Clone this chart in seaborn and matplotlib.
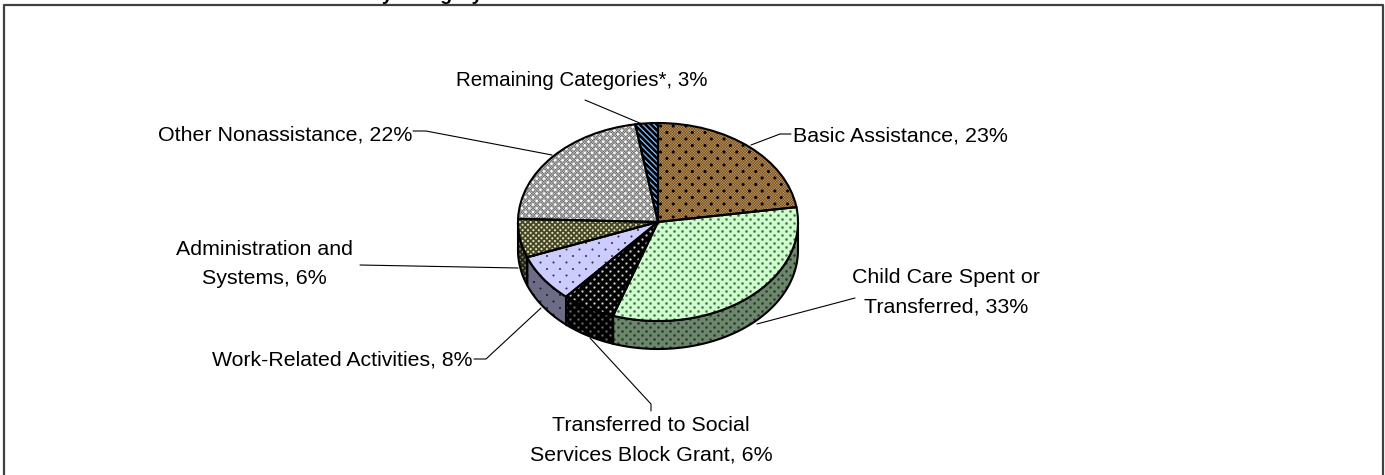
import numpy as np
import seaborn as sns
import matplotlib.pyplot as plt
import matplotlib.transforms as mtransforms
from matplotlib.lines import Line2D
from matplotlib.patches import Polygon

# values (labels round them)
categories = ["Basic Assistance", "Child Care Spent or\nTransferred",
              "Transferred to Social\nServices Block Grant", "Work-Related Activities",
              "Administration and\nSystems", "Other Nonassistance", "Remaining Categories*"]
shares = [22.6, 32.6, 6.2, 7.8, 6.3, 21.9, 2.6]
title_tail = "by Category"

base_colors = ["#96703f", "#ccffcc", "#000000", "#ccccff", "#45452a", "#949494", "#6fa8e0"]

# pattern per slice: (dot colour, dot spacing x, dot spacing y, dot radius)
dot_styles = [
    ((0, 0, 0), 12.7, 13.0, 1.5),
    ((70, 100, 70), 8.0, 8.0, 1.2),
    ((205, 205, 205), 8.0, 8.0, 1.1),
    ((50, 50, 70), 13.0, 13.0, 1.0),
    ((225, 225, 175), 5.4, 5.4, 1.05),
    ((255, 255, 255), 7.4, 7.4, 1.3),
    None,
]
# strength of the fine weave under the dots, 0 means flat colour
weave = [0.75, 0, 0, 0, 0, 0.7, 0]

label_xy = [(793, 136), (946, 292), (651, 440), (472, 360), (264, 264), (412, 135), (582, 80)]
label_ha = ["left", "center", "center", "right", "center", "right", "center"]
label_size = [15.4, 15.4, 15.4, 15.3, 15.4, 15.4, 14.8]
leaders = [
    [(751, 145), (780, 134), (791, 134)],
    [(757, 324), (855, 298)],
    [(590, 338), (651, 404), (651, 411)],
    [(541, 308), (486, 359), (474, 359)],
    [(518, 268), (360, 265)],
    [(552, 155), (426, 131), (413, 131)],
    [(642, 124), (585, 100)],
]

W, H = 1385, 475
CX, CY, RX, RY, DEPTH = 658, 222, 140, 99, 28
PAD = 4

sns.set_theme(style="white")
plt.rcParams["font.family"] = ["Liberation Sans", "DejaVu Sans"]
palette = sns.color_palette(base_colors)

fig = plt.figure(figsize=(W / 100, H / 100), dpi=100)
px = mtransforms.Affine2D().scale(1, -1).translate(0, H)

left, top = CX - RX - PAD, CY - RY - PAD
bw, bh = 2 * RX + 2 * PAD, 2 * RY + DEPTH + 2 * PAD
ax = fig.add_axes([left / W, 1 - (top + bh) / H, bw / W, bh / H])
wedges, _ = ax.pie(shares, colors=palette, startangle=90, counterclock=False, radius=1,
                   wedgeprops=dict(edgecolor="black", linewidth=1.5))
xlim = (-1 - PAD / RX, 1 + PAD / RX)
ylim = (-1 - (DEPTH + PAD) / RY, 1 + PAD / RY)
ax.set_aspect("auto")

yy, xx = np.mgrid[0:bh, 0:bw].astype(float)


def lattice(spx, spy, r):
    # staggered grid of soft round dots
    a = np.hypot(((xx / spx + 0.5) % 1 - 0.5) * spx, ((yy / spy + 0.5) % 1 - 0.5) * spy)
    b = np.hypot(((xx / spx) % 1 - 0.5) * spx, ((yy / spy) % 1 - 0.5) * spy)
    return np.clip(r - np.minimum(a, b) + 0.5, 0, 1)


def texture(i, shade=1.0):
    rgb = np.ones((bh, bw, 3)) * np.array(palette[i]) * 255
    if weave[i] > 0:
        f = np.cos(2 * np.pi * xx / 2.65) * np.cos(2 * np.pi * yy / 2.65)
        rgb = rgb * (1 + weave[i] * 0.5 * f)[..., None]
    if dot_styles[i] is not None:
        col, spx, spy, r = dot_styles[i]
        m = lattice(spx, spy, r)[..., None]
        rgb = rgb * (1 - m) + np.array(col) * m
    else:
        # diagonal stripes for the last slice
        s = ((xx - yy) / 5.6) % 1
        m = np.clip(np.abs(s - 0.5) * 5.6 - 1.3, 0, 1)[..., None]
        rgb = rgb * m
    return np.clip(rgb * shade, 0, 255).astype(np.uint8)


def draw_texture(i, patch, shade, z):
    im = ax.imshow(texture(i, shade), extent=(*xlim, *ylim), aspect="auto",
                   interpolation="nearest", origin="upper", zorder=z)
    im.set_clip_path(patch)


# side walls of the disc for whatever lies on the front half
for i, w in enumerate(wedges):
    t = np.radians(np.linspace(w.theta1, w.theta2, 300))
    t = t[np.sin(t) <= 0]
    if len(t) < 2:
        continue
    d = DEPTH / RY
    pts = np.vstack([np.c_[np.cos(t), np.sin(t)], np.c_[np.cos(t[::-1]), np.sin(t[::-1]) - d]])
    side = Polygon(pts, closed=True, facecolor="none", edgecolor="black", linewidth=1.5, zorder=3)
    ax.add_patch(side)
    draw_texture(i, side, 0.53, 2)

for i, w in enumerate(wedges):
    draw_texture(i, w, 1.0, 4)
    w.set_facecolor("none")
    w.set_zorder(5)

ax.set_xlim(xlim)
ax.set_ylim(ylim)
ax.axis("off")

# chart frame, open at the bottom where the picture was cropped
fig.add_artist(Line2D([4, 4, 1383, 1383], [H + 2, 5, 5, H + 2], transform=px,
                      color="#404040", linewidth=1.6))

# title is cut off by the top edge, only descenders are left
fig.text(483, 0.5, title_tail, transform=px, ha="right", va="baseline",
         fontsize=14, fontweight="bold", color="black")

for name, value, xy, ha, size, pts in zip(categories, shares, label_xy, label_ha, label_size, leaders):
    fig.text(xy[0], xy[1], f"{name}, {value:.0f}%", transform=px, ha=ha, va="center",
             fontsize=size, color="black", linespacing=1.68, multialignment="center")
    xs, ys = zip(*pts)
    fig.add_artist(Line2D(xs, ys, transform=px, color="black", linewidth=0.8))

fig.savefig("out.png", dpi=100)
